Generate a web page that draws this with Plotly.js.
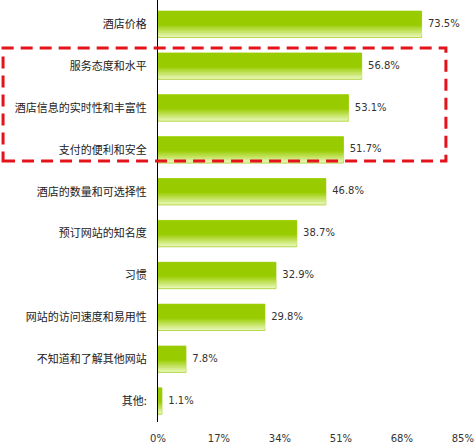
<!DOCTYPE html>
<html>
<head>
<meta charset="utf-8">
<script src="https://cdn.plot.ly/plotly-3.0.1.min.js"></script>
<style>
  html, body { margin: 0; padding: 0; background: #fff; }
  #chart { width: 475px; height: 448px; }
</style>
</head>
<body>
<div id="chart"></div>
<script>
const categories = [
	"酒店价格",
	"服务态度和水平",
	"酒店信息的实时性和丰富性",
	"支付的便利和安全",
	"酒店的数量和可选择性",
	"预订网站的知名度",
	"习惯",
	"网站的访问速度和易用性",
	"不知道和了解其他网站",
	"其他:",
];
const values = [73.5, 56.8, 53.1, 51.7, 46.8, 38.7, 32.9, 29.8, 7.8, 1.1];
const tickValues = [0, 17, 34, 51, 68, 85];

// no gradient fill for bars, so stack strips: light at the bottom, #99cc00 on top
const BAR_W = 0.63;
const STEPS = 9;
const light = [232, 246, 180];
const dark = [153, 204, 0];
const mix = (t) =>
	"rgb(" + light.map((c, i) => Math.round(c + (dark[i] - c) * t)).join(",") + ")";

const traces = [];
for (let k = 0; k < STEPS; k++) {
	const t = k / (STEPS - 1);
	traces.push({
		type: "bar",
		orientation: "h",
		x: values,
		y: categories,
		width: BAR_W * (1 - 0.45 * t),
		offset: -BAR_W / 2,
		marker: {
			color: mix(t),
			line: { color: k === 0 ? "#b5d84a" : "rgba(0,0,0,0)", width: k === 0 ? 1 : 0 },
		},
		hoverinfo: "skip",
		showlegend: false,
	});
}

const numFont = { family: "DejaVu Sans, sans-serif", size: 10, color: "#333" };

// value labels (nbsp so the gap is not collapsed)
traces.push({
	type: "scatter",
	mode: "text",
	x: values,
	y: categories,
	text: values.map((v) => "\u00a0\u00a0" + v.toFixed(1) + "%"),
	textposition: "middle right",
	textfont: numFont,
	cliponaxis: false,
	hoverinfo: "skip",
	showlegend: false,
});

const layout = {
	width: 475,
	height: 448,
	margin: { l: 158, r: 12, t: 0, b: 26 },
	paper_bgcolor: "#fff",
	plot_bgcolor: "#fff",
	barmode: "overlay",
	font: { family: "Noto Sans CJK SC, sans-serif", color: "#222" },
	xaxis: {
		range: [0, 85.05],
		tickvals: tickValues,
		ticktext: tickValues.map((v) => v + "%"),
		showgrid: false,
		zeroline: false,
		showline: false,
		ticks: "",
		ticklabelstandoff: 9,
		ticklabeloverflow: "allow",
		tickfont: numFont,
	},
	yaxis: {
		type: "category",
		categoryorder: "array",
		categoryarray: categories,
		range: [9.5, -0.58],
		showgrid: false,
		zeroline: false,
		showline: true,
		linecolor: "#000",
		linewidth: 1,
		ticks: "",
		ticklabelstandoff: 8,
		tickfont: { family: "Noto Sans CJK SC, sans-serif", size: 11, color: "#222" },
	},
	shapes: [
		{
			type: "rect",
			xref: "paper",
			yref: "paper",
			x0: -0.508,
			x1: 0.944,
			y0: 0.6185,
			y1: 0.886,
			line: { color: "#e3121b", width: 3, dash: "12px,7px" },
			fillcolor: "rgba(0,0,0,0)",
		},
	],
};

Plotly.newPlot("chart", traces, layout, { displayModeBar: false, staticPlot: true });
</script>
</body>
</html>
